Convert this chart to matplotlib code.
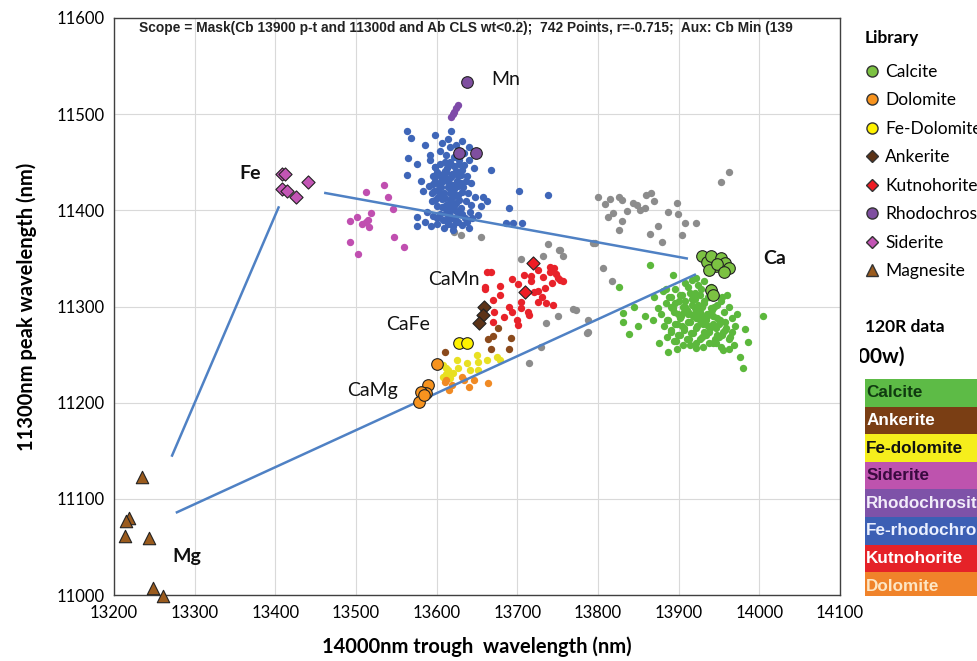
import matplotlib
matplotlib.use("Agg")
import matplotlib.pyplot as plt
from matplotlib.lines import Line2D

plt.rcParams["font.family"] = ["Lato", "DejaVu Sans"]

# ---- measured (data) points, coloured by classification ----
blue_x = [13563, 13568, 13565, 13563, 13580, 13583, 13575, 13667, 13702, 13738,
          13690, 13686, 13695, 13706, 13651, 13657, 13662, 13655, 13585, 13575,
          13592, 13598, 13604, 13610, 13616, 13622, 13628, 13634, 13640, 13646,
          13595, 13601, 13607, 13613, 13619, 13625, 13631, 13637, 13643, 13590,
          13597, 13603, 13609, 13615, 13621, 13627, 13633, 13639, 13612, 13618,
          13594, 13600, 13606, 13612, 13618, 13624, 13630, 13636, 13642, 13648,
          13588, 13596, 13604, 13611, 13617, 13623, 13629, 13635, 13641, 13605,
          13585, 13593, 13601, 13609, 13614, 13620, 13626, 13632, 13638, 13644,
          13608, 13614, 13620, 13626, 13602, 13616, 13610, 13622, 13598, 13630,
          13592, 13606, 13614, 13624, 13632, 13640, 13598, 13618, 13628, 13612,
          13598, 13604, 13610, 13616, 13622, 13628, 13634, 13600, 13606, 13612,
          13618, 13624, 13630, 13636, 13596, 13602, 13608, 13614, 13620, 13626,
          13632, 13598, 13604, 13610, 13616, 13622, 13628, 13606, 13612, 13618,
          13624, 13600, 13608, 13616, 13624, 13632, 13594, 13640, 13575, 13620]
blue_y = [11483, 11475, 11454, 11437, 11430, 11420, 11393, 11442, 11420, 11416,
          11402, 11387, 11387, 11387, 11395, 11414, 11410, 11405, 11468, 11448,
          11458, 11445, 11462, 11450, 11466, 11455, 11448, 11460, 11452, 11444,
          11436, 11440, 11432, 11444, 11438, 11430, 11442, 11436, 11428, 11425,
          11420, 11426, 11418, 11428, 11422, 11416, 11424, 11418, 11434, 11412,
          11410, 11404, 11412, 11406, 11400, 11408, 11402, 11410, 11406, 11414,
          11398, 11394, 11396, 11390, 11394, 11392, 11396, 11392, 11398, 11424,
          11388, 11384, 11386, 11382, 11386, 11384, 11388, 11385, 11388, 11392,
          11438, 11446, 11426, 11436, 11414, 11418, 11402, 11404, 11430, 11428,
          11452, 11470, 11474, 11468, 11472, 11466, 11478, 11482, 11460, 11458,
          11445, 11448, 11441, 11450, 11446, 11452, 11447, 11437, 11433, 11440,
          11435, 11441, 11437, 11431, 11427, 11421, 11430, 11424, 11419, 11425,
          11419, 11411, 11417, 11413, 11409, 11415, 11411, 11403, 11397, 11405,
          11399, 11392, 11390, 11391, 11388, 11396, 11418, 11382, 11384, 11380]

green_x = [13864, 13893, 13826, 13831, 13831, 13838, 13845, 13858, 13870, 13887,
           13922, 13955, 13976, 13980, 13986, 14004, 13982, 13922, 13850, 13875,
           13880, 13888, 13896, 13904, 13912, 13920, 13928, 13936, 13944, 13952,
           13884, 13892, 13900, 13908, 13916, 13924, 13932, 13940, 13948, 13956,
           13878, 13886, 13894, 13902, 13910, 13918, 13926, 13934, 13942, 13950,
           13882, 13890, 13898, 13906, 13914, 13922, 13930, 13938, 13946, 13954,
           13886, 13894, 13902, 13910, 13918, 13926, 13934, 13942, 13950, 13958,
           13962, 13966, 13970, 13960, 13972, 13964, 13958, 13968, 13874, 13868,
           13908, 13916, 13924, 13932, 13940, 13912, 13928, 13920, 13936, 13904,
           13898, 13914, 13930, 13946, 13962, 13890, 13906, 13922, 13938, 13954,
           13890, 13896, 13902, 13908, 13914, 13920, 13926, 13932, 13938, 13944,
           13893, 13899, 13905, 13911, 13917, 13923, 13929, 13935, 13941, 13947,
           13887, 13895, 13903, 13911, 13919, 13927, 13935, 13943, 13951, 13959,
           13891, 13899, 13907, 13915, 13923, 13931, 13939, 13947, 13955, 13963,
           13897, 13905, 13913, 13921, 13929, 13937, 13945, 13953, 13884, 13966]
green_y = [11343, 11333, 11320, 11293, 11284, 11271, 11300, 11290, 11310, 11253,
           11257, 11255, 11247, 11236, 11263, 11290, 11277, 11330, 11280, 11262,
           11316, 11310, 11318, 11312, 11320, 11314, 11318, 11310, 11316, 11306,
           11304, 11298, 11306, 11300, 11308, 11302, 11306, 11298, 11302, 11294,
           11292, 11286, 11294, 11288, 11296, 11290, 11294, 11286, 11290, 11282,
           11280, 11274, 11282, 11276, 11284, 11278, 11282, 11274, 11278, 11270,
           11268, 11264, 11270, 11266, 11272, 11266, 11270, 11262, 11268, 11276,
           11300, 11288, 11280, 11312, 11292, 11268, 11284, 11260, 11298, 11286,
           11324, 11328, 11322, 11326, 11320, 11292, 11290, 11298, 11280, 11280,
           11256, 11260, 11258, 11262, 11256, 11300, 11294, 11288, 11292, 11310,
           11310, 11304, 11312, 11306, 11314, 11308, 11312, 11304, 11310, 11300,
           11298, 11292, 11300, 11294, 11302, 11296, 11300, 11292, 11296, 11288,
           11286, 11282, 11290, 11284, 11292, 11286, 11290, 11282, 11286, 11278,
           11276, 11270, 11278, 11272, 11280, 11274, 11278, 11270, 11274, 11266,
           11264, 11260, 11266, 11262, 11268, 11262, 11266, 11258, 11318, 11274]

grey_x = [13963, 13953, 13809, 13826, 13830, 13860, 13866, 13870, 13819, 13836,
          13852, 13858, 13830, 13887, 13898, 13899, 13908, 13922, 13874, 13865,
          13879, 13904, 13794, 13753, 13806, 13817, 13769, 13787, 13786, 13621,
          13630, 13655, 13738, 13705, 13732, 13752, 13757, 13796, 13815, 13843,
          13848, 13773, 13736, 13751, 13787, 13729, 13715, 13800, 13812, 13826]
grey_y = [11440, 11429, 11407, 11414, 11411, 11416, 11418, 11410, 11397, 11399,
          11400, 11402, 11389, 11398, 11408, 11396, 11387, 11387, 11384, 11375,
          11367, 11374, 11366, 11359, 11340, 11326, 11297, 11286, 11272, 11377,
          11374, 11372, 11365, 11349, 11353, 11359, 11352, 11366, 11412, 11408,
          11406, 11296, 11283, 11290, 11273, 11258, 11241, 11414, 11393, 11380]

red_x = [13663, 13660, 13679, 13694, 13701, 13708, 13717, 13726, 13732, 13740,
         13746, 13753, 13743, 13734, 13721, 13726, 13736, 13744, 13670, 13671,
         13670, 13684, 13694, 13699, 13701, 13713, 13715, 13690, 13705, 13667,
         13679, 13660, 13717, 13740, 13750, 13757, 13726, 13705, 13730, 13748]
red_y = [11336, 11320, 11321, 11329, 11323, 11333, 11326, 11338, 11331, 11341,
         11340, 11328, 11324, 11319, 11315, 11305, 11304, 11302, 11307, 11294,
         11284, 11289, 11294, 11286, 11281, 11294, 11291, 11299, 11305, 11336,
         11312, 11318, 11332, 11336, 11330, 11326, 11316, 11298, 11310, 11334]

magenta_x = [13535, 13513, 13540, 13546, 13518, 13515, 13516, 13492, 13501, 13547,
             13492, 13502, 13559, 13512, 13508]
magenta_y = [11426, 11419, 11414, 11401, 11397, 11390, 11383, 11389, 11393, 11372,
             11367, 11355, 11362, 11388, 11386]

violet_x = [13626, 13624, 13622, 13618, 13620]
violet_y = [11510, 11506, 11502, 11497, 11500]

brown_x = [13664, 13670, 13692, 13667, 13690, 13610, 13676]
brown_y = [11266, 11269, 11267, 11256, 11256, 11253, 11278]

yellow_x = [13608, 13612, 13614, 13625, 13637, 13650, 13651, 13663, 13675, 13679,
            13608, 13616, 13626, 13641, 13651, 13612, 13620]
yellow_y = [11239, 11236, 11234, 11244, 11241, 11250, 11242, 11244, 11247, 11244,
            11227, 11226, 11236, 11234, 11234, 11230, 11231]

orange_x = [13610, 13619, 13631, 13634, 13646, 13640, 13664, 13615, 13612]
orange_y = [11221, 11218, 11227, 11224, 11224, 11216, 11220, 11213, 11224]

# ---- library end-members ----
lib_calcite_x = [13929, 13935, 13940, 13946, 13952, 13958, 13963, 13937, 13948, 13956, 13940, 13943]
lib_calcite_y = [11353, 11346, 11352, 11342, 11350, 11345, 11340, 11338, 11344, 11336, 11317, 11312]
lib_dolomite_x = [13600, 13589, 13587, 13581, 13578, 13584]
lib_dolomite_y = [11240, 11218, 11210, 11211, 11201, 11208]
lib_fedol_x = [13628, 13637]
lib_fedol_y = [11262, 11262]
lib_ankerite_x = [13659, 13658, 13653]
lib_ankerite_y = [11300, 11291, 11283]
lib_kutno_x = [13720, 13710]
lib_kutno_y = [11345, 11315]
lib_rhodo_x = [13637, 13628, 13649]
lib_rhodo_y = [11533, 11460, 11460]
lib_siderite_x = [13408, 13412, 13408, 13414, 13425, 13441]
lib_siderite_y = [11438, 11438, 11422, 11420, 11414, 11429]
lib_magnesite_x = [13235, 13219, 13215, 13214, 13243, 13248, 13261]
lib_magnesite_y = [11123, 11080, 11077, 11061, 11059, 11007, 10999]

# ---- guide lines (x pair, y pair) ----
guide_lines = [([13272, 13404], [11145, 11403]),
               ([13462, 13910], [11418, 11350]),
               ([13278, 13920], [11086, 11333])]

end_labels = ["Mn", "Fe", "Ca", "CaMn", "CaFe", "CaMg", "Mg"]
end_label_x = [13685, 13369, 14019, 13621, 13565, 13520, 13290]
end_label_y = [11536, 11438, 11350, 11328, 11281, 11213, 11040]
end_label_bold = [False, True, True, False, False, False, True]

band_names = ["Calcite", "Ankerite", "Fe-dolomite", "Siderite", "Rhodochrosite",
              "Fe-rhodochrosite", "Kutnohorite", "Dolomite"]
band_colors = ["#5DBB46", "#7A3E14", "#F5EE1C", "#BE53AE", "#7E52A8",
               "#3C5FB4", "#E52228", "#F0832A"]
band_text = ["#103A10", "#FFFFFF", "#111111", "#3A0A40", "#F2ECFA",
             "#EAF0FF", "#FFFFFF", "#FDE6C4"]

fig = plt.figure(figsize=(9.77, 6.61), dpi=100)
ax = fig.add_axes([114 / 977, 66 / 661, 726 / 977, 577 / 661])

dot = 28
ax.scatter(grey_x, grey_y, s=dot, color="#8C8C8C", lw=0, zorder=2)
ax.scatter(blue_x, blue_y, s=dot, color="#3F66B8", lw=0, zorder=2)
ax.scatter(green_x, green_y, s=dot, color="#5CB83C", lw=0, zorder=2)
ax.scatter(red_x, red_y, s=dot, color="#E8222A", lw=0, zorder=2)
ax.scatter(magenta_x, magenta_y, s=dot, color="#C04FB0", lw=0, zorder=2)
ax.scatter(violet_x, violet_y, s=dot, color="#7E4AA8", lw=0, zorder=2)
ax.scatter(brown_x, brown_y, s=dot, color="#8B4A1C", lw=0, zorder=2)
ax.scatter(yellow_x, yellow_y, s=dot, color="#E8E022", lw=0, zorder=2)
ax.scatter(orange_x, orange_y, s=dot, color="#F08A24", lw=0, zorder=2)

for xs, ys in guide_lines:
    ax.plot(xs, ys, color="#4F81C4", lw=1.8, zorder=3)

ek = dict(edgecolors="#222222", linewidths=0.8, zorder=4, clip_on=False)
ax.scatter(lib_calcite_x, lib_calcite_y, s=70, marker="o", color="#7CC242", **ek)
ax.scatter(lib_dolomite_x, lib_dolomite_y, s=70, marker="o", color="#F7931E", **ek)
ax.scatter(lib_fedol_x, lib_fedol_y, s=70, marker="o", color="#FFF200", **ek)
ax.scatter(lib_ankerite_x, lib_ankerite_y, s=45, marker="D", color="#5C3317", **ek)
ax.scatter(lib_kutno_x, lib_kutno_y, s=45, marker="D", color="#ED1C24", **ek)
ax.scatter(lib_rhodo_x, lib_rhodo_y, s=70, marker="o", color="#7F4FA0", **ek)
ax.scatter(lib_siderite_x, lib_siderite_y, s=45, marker="D", color="#C355B5", **ek)
ax.scatter(lib_magnesite_x, lib_magnesite_y, s=80, marker="^", color="#9A5B1E", **ek)

for lab, lx, ly, b in zip(end_labels, end_label_x, end_label_y, end_label_bold):
    ax.text(lx, ly, lab, ha="center", va="center", fontsize=14,
            fontweight="bold" if b else "normal", color="#111111", zorder=5)

ax.set_xlim(13200, 14100)
ax.set_ylim(11000, 11600)
ax.set_xticks(range(13200, 14101, 100))
ax.set_yticks(range(11000, 11601, 100))
ax.tick_params(length=0, labelsize=12, pad=7)
ax.grid(True, color="#D9D9D9", lw=0.8)
ax.set_axisbelow(True)
for s in ax.spines.values():
    s.set_color("#404040")
    s.set_linewidth(1.0)
ax.set_xlabel("14000nm trough  wavelength (nm)", fontsize=14.5, fontweight="bold", labelpad=11)
ax.set_ylabel("11300nm peak wavelength (nm)", fontsize=14.5, fontweight="bold", labelpad=14)

ax.text(0.035, 0.995, "Scope = Mask(Cb 13900 p-t and 11300d and Ab CLS wt<0.2);  742 Points, "
        "r=-0.715;  Aux: Cb Min (139", transform=ax.transAxes, ha="left", va="top",
        fontsize=9.9, fontweight="bold", family="Liberation Sans", color="#222222")

# ---- library legend ----
handles = [
    Line2D([], [], marker="o", ls="", ms=8, mfc="#7CC242", mec="#333333", label="Calcite"),
    Line2D([], [], marker="o", ls="", ms=8, mfc="#F7931E", mec="#333333", label="Dolomite"),
    Line2D([], [], marker="o", ls="", ms=8, mfc="#FFF200", mec="#333333", label="Fe-Dolomite"),
    Line2D([], [], marker="D", ls="", ms=6, mfc="#5C3317", mec="#333333", label="Ankerite"),
    Line2D([], [], marker="D", ls="", ms=6, mfc="#ED1C24", mec="#333333", label="Kutnohorite"),
    Line2D([], [], marker="o", ls="", ms=8, mfc="#7F4FA0", mec="#333333", label="Rhodochrosite"),
    Line2D([], [], marker="D", ls="", ms=6, mfc="#C355B5", mec="#333333", label="Siderite"),
    Line2D([], [], marker="^", ls="", ms=8, mfc="#9A5B1E", mec="#333333", label="Magnesite"),
]
fig.text(865 / 977, 1 - 38 / 661, "Library", fontsize=12.5, fontweight="bold", va="center")
leg = fig.legend(handles=handles, loc="upper left",
                 bbox_to_anchor=(858 / 977, 1 - 57 / 661), frameon=False,
                 fontsize=12.5, handlelength=0.8, handletextpad=0.35,
                 labelspacing=0.72, borderaxespad=0)

# ---- 120R data panel (cut at the figure edge) ----
panel = fig.add_axes([860 / 977, 0, 117 / 977, 1])
panel.set_xlim(860, 977)
panel.set_ylim(661, 0)
panel.axis("off")
panel.text(865, 327, "120R data", fontsize=12.5, fontweight="bold", va="center", clip_on=True)
panel.text(840, 357, "(800w)", fontsize=15, fontweight="bold", va="center", clip_on=True)

band = fig.add_axes([865 / 977, 1 - 596 / 661, 130 / 977, 217 / 661])
pos = list(range(len(band_names)))
band.barh(pos, [1] * len(pos), height=1.0, color=band_colors)
band.set_xlim(0, 1)
band.set_ylim(7.36, -0.5)
band.axis("off")
for p, name, tc in zip(pos, band_names, band_text):
    band.text(0.01, p, name, color=tc, fontsize=12.3, fontweight="bold",
              family="Liberation Sans", va="center", clip_on=True)

fig.savefig("out.png", dpi=100)
